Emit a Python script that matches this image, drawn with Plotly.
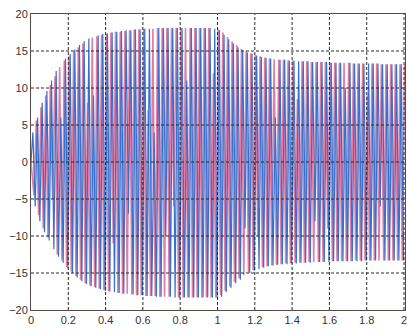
import plotly.graph_objects as go

# Cycle-by-cycle crest and trough values of the two phase currents.
# One crest and one trough per cycle; cycle length 0.025 s.
cycle = 0.025
blue_first_crest = 0.010
red_first_trough = 0.016

blue_high = [
    4.0, 6.0, 8.0, 9.6, 11.0, 12.3, 6.0, 14.0, 14.6, 15.2,
    15.8, 16.3, 16.7, 9.0, 17.1, 17.3, 17.4, 17.5, 17.6, 17.7,
    17.8, 17.8, 17.9, 17.9, 18.0, 18.0, 4.0, 18.1, 18.1, 18.1,
    18.1, 18.1, 18.1, 11.0, 18.1, 18.1, 18.1, 18.1, 18.1, 18.0,
    17.8, 17.2, 16.6, 16.0, 15.5, 15.1, 14.8, 14.6, 14.4, 14.2,
    14.1, 14.0, 6.0, 13.8, 13.8, 13.7, 13.7, 13.6, 13.6, 13.6,
    13.5, 13.5, 13.5, 13.5, 13.4, 13.4, 13.4, 10.0, 13.4, 13.3,
    13.3, 13.3, 13.3, 13.3, 13.3, 13.2, 13.2, 13.2, 13.2, 13.2,
]
blue_low = [
    -6.0, -8.0, -9.5, -10.6, -11.8, -12.8, -13.6, -14.4, -15.0, -15.6,
    -16.1, -16.5, -16.8, -17.0, -17.2, -17.4, -17.5, -17.6, -17.7, -17.8,
    -7.0, -17.9, -18.0, -18.0, -18.1, -18.1, -18.2, -18.2, -10.0, -18.2,
    -18.3, -18.3, -18.3, -18.3, -18.3, -18.3, -18.3, -18.3, -18.3, -18.3,
    -18.2, -17.6, -17.0, -16.4, -15.9, -9.0, -15.0, -14.7, -14.5, -14.3,
    -14.1, -14.0, -13.9, -13.8, -13.8, -13.7, -13.7, -13.6, -13.6, -13.6,
    -8.0, -13.5, -13.5, -13.5, -13.4, -13.4, -13.4, -13.4, -13.4, -13.4,
    -13.4, -13.3, -13.3, -13.3, -6.0, -13.3, -13.3, -13.3, -13.3, -13.3,
]
red_low = [
    -4.5, -7.2, -9.0, -10.2, -5.0, -12.5, -13.3, -14.2, -14.8, -15.4,
    -15.9, -16.4, -16.7, -16.9, -17.1, -17.3, -17.5, -11.0, -17.7, -17.8,
    -17.8, -17.9, -18.0, -18.0, -18.1, -18.1, -18.1, -18.2, -18.2, -18.2,
    -6.0, -18.3, -18.3, -18.3, -18.3, -18.3, -18.3, -18.3, -18.3, -18.3,
    -18.0, -17.4, -16.8, -16.2, -15.7, -15.3, -14.9, -14.6, -10.0, -14.2,
    -14.1, -14.0, -13.9, -13.8, -13.7, -13.7, -13.6, -13.6, -13.6, -13.5,
    -13.5, -13.5, -13.5, -9.0, -13.4, -13.4, -13.4, -13.4, -13.4, -13.3,
    -13.3, -13.3, -13.3, -13.3, -13.3, -13.3, -13.3, -13.3, -13.3, -13.3,
]
red_high = [
    5.6, 7.4, 9.0, 10.4, 11.6, 12.8, 13.7, 14.3, 14.9, 15.5,
    16.0, 8.0, 16.8, 17.0, 17.2, 17.3, 17.5, 17.6, 17.6, 17.7,
    17.8, 17.9, 17.9, 18.0, 7.0, 18.0, 18.1, 18.1, 18.1, 18.1,
    18.1, 18.1, 18.1, 18.1, 18.1, 18.1, 18.1, 18.1, 12.0, 17.9,
    17.5, 16.9, 16.3, 15.8, 15.3, 15.0, 14.7, 14.5, 14.3, 14.1,
    14.0, 13.9, 13.8, 13.8, 13.7, 13.7, 8.5, 13.6, 13.6, 13.5,
    13.5, 13.5, 13.5, 13.4, 13.4, 13.4, 13.4, 13.4, 13.3, 13.3,
    13.3, 9.0, 13.3, 13.3, 13.2, 13.2, 13.2, 13.2, 13.2, 13.2,
]

x_ticks = [0, 0.2, 0.4, 0.6, 0.8, 1, 1.2, 1.4, 1.6, 1.8, 2]
x_tick_text = ["0", "0.2", "0.4", "0.6", "0.8", "1", "1.2", "1.4", "1.6", "1.8", "2"]
y_ticks = [-20, -15, -10, -5, 0, 5, 10, 15, 20]
x_max = 2.0053


def waveform(first, a, b):
    """Interleave two per-cycle extreme lists into one time series."""
    t, y = [0.0], [0.0]
    for i, (p, q) in enumerate(zip(a, b)):
        t += [first + cycle * i, first + cycle * i + cycle / 2]
        y += [p, q]
    return t, y


bt, by = waveform(blue_first_crest, blue_high, blue_low)
rt, ry = waveform(red_first_trough, red_low, red_high)

fig = go.Figure()
fig.add_trace(go.Scatter(x=rt, y=ry, mode="lines",
                         line=dict(color="rgb(228,125,160)", width=1.6)))
fig.add_trace(go.Scatter(x=bt, y=by, mode="lines",
                         line=dict(color="rgb(55,112,205)", width=1.2)))

# dashed grid drawn over the traces
grid = dict(color="#2a2a2a", width=1, dash="3px,2px")
shapes = []
for xv in x_ticks[1:]:
    if xv < x_max:
        shapes.append(dict(type="line", xref="x", yref="paper", x0=xv, x1=xv,
                           y0=0, y1=1, line=grid, layer="above"))
for yv in y_ticks[1:-1]:
    shapes.append(dict(type="line", xref="paper", yref="y", x0=0, x1=1,
                       y0=yv, y1=yv, line=grid, layer="above"))

axis_common = dict(
    showgrid=False, zeroline=False, showline=True, linecolor="#5a4c44",
    linewidth=1, mirror=True, ticks="", ticklabeloverflow="allow",
    tickfont=dict(family="Liberation Sans", size=11, color="#333"),
)

fig.update_layout(
    width=407, height=331,
    margin=dict(l=31, r=0, t=14, b=21),
    paper_bgcolor="white", plot_bgcolor="white",
    showlegend=False,
    shapes=shapes,
    xaxis=dict(range=[0, x_max], tickvals=x_ticks, ticktext=x_tick_text, **axis_common),
    yaxis=dict(range=[-20, 20], tickvals=y_ticks, **axis_common),
)

fig.write_html("out.html")
